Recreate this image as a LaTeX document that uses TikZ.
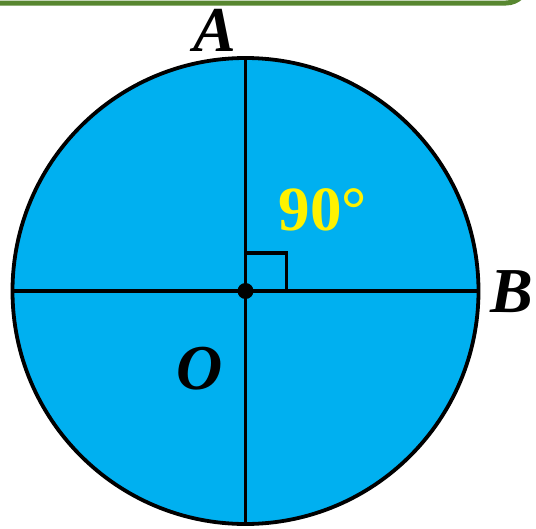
\documentclass[tikz,border=0pt]{standalone}
\usepackage{fontspec}
\setmainfont{Liberation Serif}
\usetikzlibrary{positioning}
\definecolor{discblue}{RGB}{0,176,240}
\definecolor{framegreen}{RGB}{88,135,48}

\begin{document}
\begin{tikzpicture}[
        x=1pt, y=-1pt,
        lbl/.style  = {anchor=base, inner sep=0pt,
                       font=\fontsize{64}{76}\selectfont\bfseries\itshape},
        ang/.style  = {anchor=base, inner sep=0pt, text=yellow,
                       font=\fontsize{63}{76}\selectfont\bfseries},
        rim/.style  = {draw=black, line width=3.8pt, fill=discblue},
        diam/.style = {draw=black, line width=3.2pt}
    ]
    \useasboundingbox (0,0) rectangle (536,528);
    % frame edge at the top
    \draw[framegreen, line width=5pt, rounded corners=22pt]
        (-20,3) -- (528,3) -- (528,-60);
    % disc
    \coordinate (o) at (245.5,291);
    \draw[rim] (o) circle (233);
    \coordinate (top)   at (245.5,58);
    \coordinate (bot)   at (245.5,524);
    \coordinate (left)  at (12.5,291);
    \coordinate (right) at (478.5,291);
    \draw[diam] (top) -- (bot);
    \draw[diam] (left) -- (right);
    % right angle mark
    \draw[line width=3.2pt] (245.5,253) -- (286.5,253) -- (286.5,291);
    \fill (o) circle (8);
    % labels
    \node[lbl] (lA) at (215,51)  {A};
    \node[lbl] (lB) at (512,312) {B};
    \node[lbl] (lO) at (200,389) {O};
    \node[ang] (lang) at (323,230) {90°};
\end{tikzpicture}
\end{document}
